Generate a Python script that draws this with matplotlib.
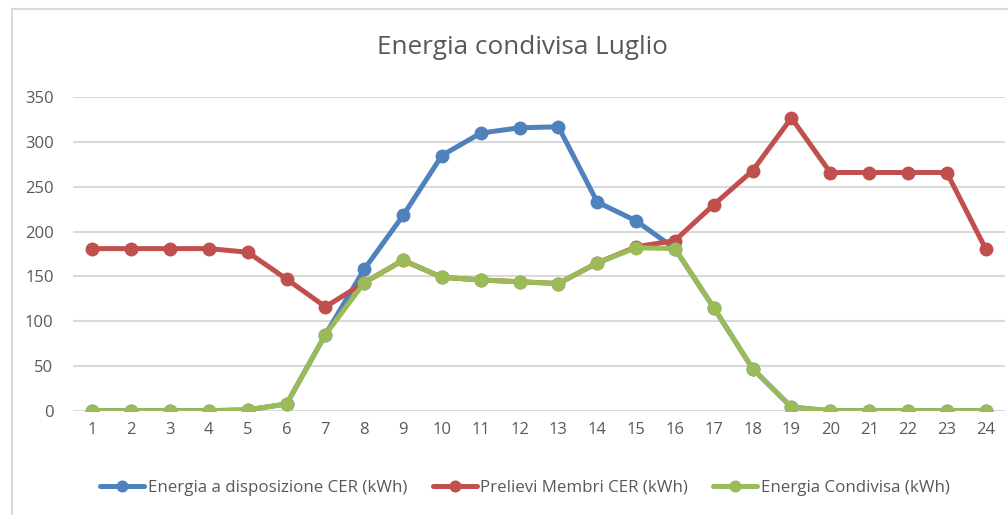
import matplotlib
matplotlib.use("Agg")
import matplotlib.pyplot as plt
from matplotlib.patches import Rectangle

hours = list(range(1, 25))
disponibile = [0, 0, 0, 0, 1, 7.5, 85, 158, 218, 285, 310, 316, 317, 233, 212, 181, 115, 47, 4, 0, 0, 0, 0, 0]
prelievi = [181, 181, 181, 181, 177, 147, 116, 143, 168, 149, 146, 144, 142, 165, 183, 190, 230, 268, 327, 266, 266, 266, 266, 181]
condivisa = [0, 0, 0, 0, 1, 7.5, 85, 143, 168, 149, 146, 144, 142, 165, 182, 181, 115, 47, 4, 0, 0, 0, 0, 0]
labels = ["Energia a disposizione CER (kWh)", "Prelievi Membri CER (kWh)", "Energia Condivisa (kWh)"]
title = "Energia condivisa Luglio"

plt.rcParams['font.family'] = ['Open Sans', 'DejaVu Sans']
fig = plt.figure(figsize=(10.08, 5.15), dpi=100)
fig.patches.append(Rectangle((12/1008, -0.01), 1.0, 1 - 9/515 + 0.01, transform=fig.transFigure,
                             fill=False, edgecolor='#D9D9D9', linewidth=1.5))
ax = fig.add_axes([73/1008, 1 - 410.7/515, (1005-73)/1008, (410.7-97.3)/515])

colors = ['#4F81BD', '#C0504D', '#9BBB59']
for data, c, lab in zip([disponibile, prelievi, condivisa], colors, labels):
    ax.plot(hours, data, color=c, linewidth=3.6, marker='o', markersize=9, label=lab,
            solid_capstyle='round', solid_joinstyle='round')

ax.set_xlim(0.5, 24.5)
ax.set_ylim(0, 350)
ax.set_yticks(range(0, 351, 50))
ax.set_xticks(hours)
ax.grid(axis='y', color='#D9D9D9', linewidth=1.5)
ax.set_axisbelow(True)
for s in ax.spines.values():
    s.set_visible(False)
ax.tick_params(axis='both', length=0, labelsize=12, colors='#595959')
ax.tick_params(axis='y', pad=14)
ax.tick_params(axis='x', pad=8)

fig.text(522/1008, 1 - 48/515, title, ha='center', va='center', fontsize=18.8, color='#595959')
leg = fig.legend(loc='center', bbox_to_anchor=(525/1008, 1 - 487.5/515), ncol=3, frameon=False,
                 fontsize=12.2, handlelength=2.6, handletextpad=0.2, columnspacing=1.5, markerscale=0.85)
for t in leg.get_texts():
    t.set_color('#595959')

fig.savefig('out.png', dpi=100)
